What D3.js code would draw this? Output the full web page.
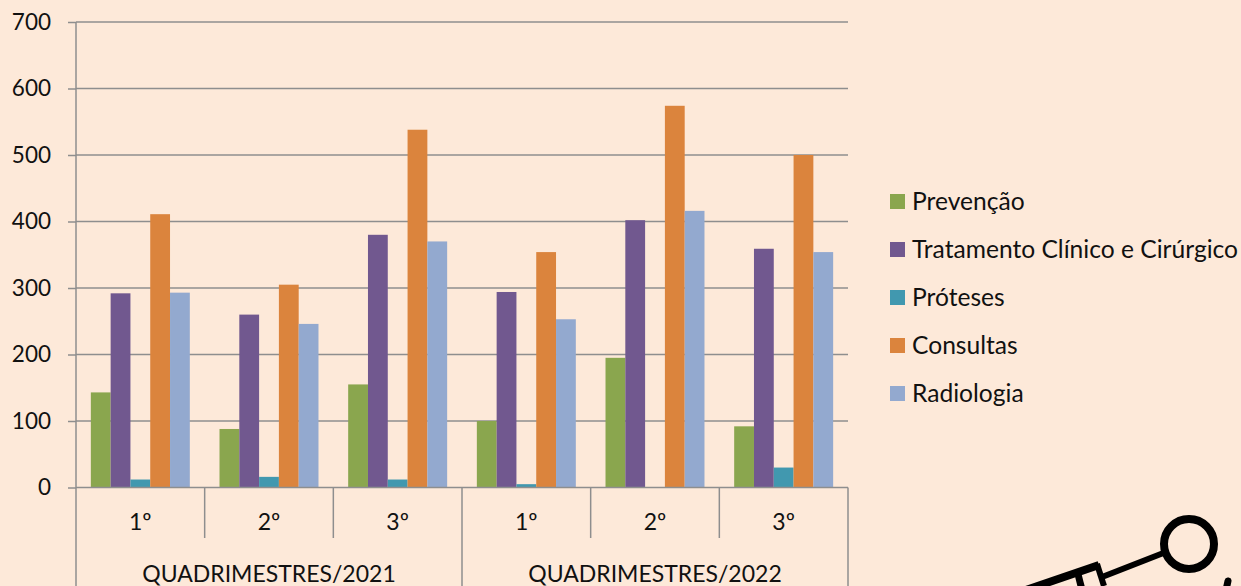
<!DOCTYPE html>
<html>
<head>
<meta charset="utf-8">
<script src="https://cdn.jsdelivr.net/npm/d3@7"></script>
<style>
  html, body { margin: 0; padding: 0; background: #fde9d9; overflow: hidden; }
  text { font-family: Lato, "Noto Sans", sans-serif; fill: #111; }
</style>
</head>
<body>
<script>
const years = ['QUADRIMESTRES/2021', 'QUADRIMESTRES/2022'];
const quarters = ['1º', '2º', '3º', '1º', '2º', '3º'];
const seriesNames = ['Prevenção', 'Tratamento Clínico e Cirúrgico', 'Próteses', 'Consultas', 'Radiologia'];
const seriesColors = ['#8aa64e', '#71588f', '#4198af', '#db843d', '#93a9cf'];
const prevencao = [143, 88, 155, 100, 195, 92];
const tratamento = [292, 260, 380, 294, 402, 359];
const proteses = [12, 16, 12, 5, 0, 30];
const consultas = [411, 305, 538, 354, 574, 500];
const radiologia = [293, 246, 370, 253, 416, 354];
const yTicks = [0, 100, 200, 300, 400, 500, 600, 700];

const seriesValues = [prevencao, tratamento, proteses, consultas, radiologia];

const w = 1241, h = 586;
const plotLeft = 76, plotRight = 848, plotTop = 22, plotBottom = 487.5;
const gridColor = '#8e8e8e';

const svg = d3.select('body').append('svg')
  .attr('width', w)
  .attr('height', h)
  .style('display', 'block');

const y = d3.scaleLinear().domain([0, 700]).range([plotBottom, plotTop]);

const x = d3.scaleBand()
  .domain(d3.range(quarters.length))
  .range([plotLeft, plotRight]);

const xInner = d3.scaleBand()
  .domain(d3.range(seriesNames.length))
  .range([0, x.bandwidth()])
  .paddingInner(0)
  .paddingOuter(0.75);

// gridlines
svg.append('g')
  .selectAll('line')
  .data(yTicks.slice(1))
  .enter()
  .append('line')
  .attr('x1', plotLeft)
  .attr('x2', plotRight)
  .attr('y1', d => y(d))
  .attr('y2', d => y(d))
  .attr('stroke', gridColor)
  .attr('stroke-width', 1.5);

// bars
seriesValues.forEach(function(values, s) {
  svg.append('g')
    .selectAll('rect')
    .data(values)
    .enter()
    .append('rect')
    .attr('x', (d, i) => x(i) + xInner(s))
    .attr('y', d => y(d))
    .attr('width', xInner.bandwidth())
    .attr('height', d => y(0) - y(d))
    .attr('fill', seriesColors[s]);
});

// y axis
const yAxis = svg.append('g')
  .attr('transform', `translate(${plotLeft},0)`)
  .call(d3.axisLeft(y).tickValues(yTicks).tickSize(8).tickPadding(17));
yAxis.select('.domain').remove();
yAxis.selectAll('line').attr('stroke', gridColor).attr('stroke-width', 1.5);
yAxis.selectAll('text').style('font-size', '22.5px').attr('fill', '#111');

// x axis lines, short ones between quarters and long ones between years
const edges = d3.range(quarters.length + 1);
const edgeX = i => plotLeft + i * x.step();
svg.append('g')
  .selectAll('line')
  .data(edges)
  .enter()
  .append('line')
  .attr('x1', edgeX)
  .attr('x2', edgeX)
  .attr('y1', i => (i === 0 ? plotTop : plotBottom))
  .attr('y2', i => (i % 3 === 0 ? h : 538))
  .attr('stroke', gridColor)
  .attr('stroke-width', 1.5);

svg.append('line')
  .attr('x1', plotLeft)
  .attr('x2', plotRight)
  .attr('y1', plotBottom)
  .attr('y2', plotBottom)
  .attr('stroke', gridColor)
  .attr('stroke-width', 1.5);

// quarter labels
svg.append('g')
  .selectAll('text')
  .data(quarters)
  .enter()
  .append('text')
  .attr('x', (d, i) => x(i) + x.bandwidth() / 2)
  .attr('y', 529.5)
  .attr('text-anchor', 'middle')
  .style('font-size', '23px')
  .text(d => d);

// year labels
svg.append('g')
  .selectAll('text')
  .data(years)
  .enter()
  .append('text')
  .attr('x', (d, i) => plotLeft + (i * 3 + 1.5) * x.step())
  .attr('y', 581.5)
  .attr('text-anchor', 'middle')
  .style('font-size', '23px')
  .text(d => d);

// legend
const legend = svg.append('g')
  .selectAll('g')
  .data(seriesNames)
  .enter()
  .append('g')
  .attr('transform', (d, i) => `translate(890,${194 + i * 48})`);

legend.append('rect')
  .attr('width', 15)
  .attr('height', 15)
  .attr('fill', (d, i) => seriesColors[i]);

legend.append('text')
  .attr('x', 22)
  .attr('y', 16)
  .style('font-size', '24.6px')
  .text(d => d);

// syringe drawing in the corner
const syringe = svg.append('g').attr('fill', 'none').attr('stroke', '#000');
syringe.append('circle')
  .attr('cx', 1189).attr('cy', 544).attr('r', 25).attr('stroke-width', 8);
syringe.append('path')
  .attr('d', 'M1166,552 L1102,577').attr('stroke-width', 6);
syringe.append('path')
  .attr('d', 'M1097,564 L1104,586').attr('stroke-width', 6);
syringe.append('path')
  .attr('d', 'M1099,565 L1026,590').attr('stroke-width', 8);
syringe.append('path')
  .attr('d', 'M1078,574 L1082,590').attr('stroke-width', 7);
syringe.append('path')
  .attr('d', 'M1228,581 L1226,590').attr('stroke-width', 7).attr('stroke-linecap', 'round');
</script>
</body>
</html>
